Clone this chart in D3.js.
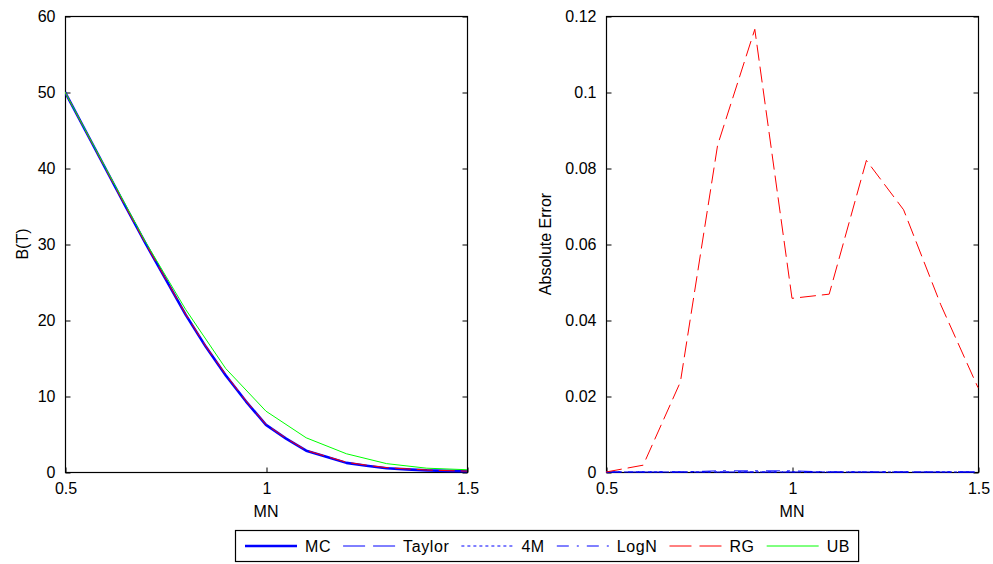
<!DOCTYPE html>
<html><head><meta charset="utf-8">
<script src="https://cdn.jsdelivr.net/npm/d3@7"></script>
<style>
html,body{margin:0;padding:0;background:#fff;}
svg{display:block;font-family:"Liberation Sans",Arial,sans-serif;}
</style></head>
<body>
<svg id="c" width="993" height="564"></svg>
<script>
// ---- data ----
const mnFine = [0.5,0.55,0.6,0.65,0.7,0.75,0.8,0.85,0.9,0.95,1.0,1.05,1.1,1.15,1.2,1.25,1.3,1.35,1.4,1.45,1.5];
const mcB     = [50.0,45.0,40.0,35.0,30.1,25.4,20.7,16.5,12.7,9.3,6.2,4.4,2.8,2.0,1.2,0.83,0.5,0.35,0.22,0.15,0.1];
const taylorB = [50.0,45.0,40.0,35.0,30.1,25.4,20.7,16.5,12.7,9.3,6.2,4.4,2.8,2.0,1.2,0.83,0.5,0.35,0.22,0.15,0.1];
const fourMB  = [50.0,45.0,40.0,35.0,30.1,25.4,20.7,16.5,12.7,9.3,6.2,4.4,2.8,2.0,1.2,0.83,0.5,0.35,0.22,0.15,0.1];
const logNB   = [50.0,45.0,40.0,35.0,30.1,25.4,20.7,16.5,12.7,9.3,6.2,4.4,2.8,2.0,1.2,0.83,0.5,0.35,0.22,0.15,0.1];
const rgB     = [50.0,45.0,40.0,35.0,30.12,25.45,20.79,16.58,12.82,9.38,6.25,4.44,2.85,2.06,1.28,0.9,0.57,0.41,0.26,0.18,0.12];
const mnCoarse = [0.5,0.6,0.7,0.8,0.9,1.0,1.1,1.2,1.3,1.4,1.5];
const ubB     = [50.0,40.1,30.3,21.4,13.6,8.0,4.5,2.4,1.1,0.5,0.3];
const rgErr     = [0,0.0018,0.0237,0.086,0.1165,0.0457,0.0468,0.0820,0.0690,0.0440,0.0222];
const taylorErr = [0,0,0,0,0,0,0,0,0,0,0];
const fourMErr  = [0,0,0,0,0,0,0,0,0,0,0];
const logNErr   = [0,0,0,0.0003,0.0003,0.0003,0,0,0,0,0];
const xTicks = [0.5,1,1.5];
const xTickLabels = ["0.5","1","1.5"];
const yTicksL = [0,10,20,30,40,50,60];
const yTicksR = [0,0.02,0.04,0.06,0.08,0.1,0.12];
const yTickLabelsR = ["0","0.02","0.04","0.06","0.08","0.1","0.12"];
const legendNames = ["MC","Taylor","4M","LogN","RG","UB"];

// ---- styles ----
const BLUE="#0000ff", RED="#ff0000", GREEN="#00ff00";
const styles = {
  MC:{c:BLUE,w:2.6,d:null,ld:null},
  Taylor:{c:BLUE,w:1,d:"16,6",ld:"22,8"},
  "4M":{c:BLUE,w:1,d:"3,3",ld:"3,3"},
  LogN:{c:BLUE,w:1,d:"14,7,3,8",ld:"12,8,2,8"},
  RG:{c:RED,w:1,d:"16,6",ld:"22,8"},
  UB:{c:GREEN,w:1,d:null,ld:null}
};
const FS = 16;
const svg = d3.select("#c");

function panel(x0,x1,y0,y1,yDomain,yTicks,yLabels,ylab,ylabX,series){
  const x = d3.scaleLinear().domain([0.5,1.5]).range([x0,x1]);
  const y = d3.scaleLinear().domain(yDomain).range([y1,y0]);
  const g = svg.append("g");
  // box
  g.append("rect").attr("x",x0+0.5).attr("y",y0+0.5).attr("width",x1-x0).attr("height",y1-y0)
    .attr("fill","none").attr("stroke","#000").attr("stroke-width",1.2);
  // axes
  const ax = d3.axisBottom(x).tickValues(xTicks).tickFormat((d,i)=>xTickLabels[i]).tickSizeInner(-5).tickSizeOuter(0).tickPadding(10);
  const axG = g.append("g").attr("transform","translate(0.5,"+(y1+0.5)+")").call(ax);
  const ay = d3.axisLeft(y).tickValues(yTicks).tickFormat((d,i)=>yLabels[i]).tickSizeInner(-5).tickSizeOuter(0).tickPadding(10);
  const ayG = g.append("g").attr("transform","translate("+(x0+0.5)+",0.5)").call(ay);
  const ayR = d3.axisRight(y).tickValues(yTicks).tickFormat("").tickSizeInner(-5).tickSizeOuter(0);
  const ayRG = g.append("g").attr("transform","translate("+(x1+0.5)+",0.5)").call(ayR);
  [axG,ayG,ayRG].forEach(a=>{
    a.select(".domain").remove();
    a.selectAll(".tick line").attr("stroke","#000");
    a.selectAll("text").attr("font-size",FS).attr("fill","#000").attr("font-family","Liberation Sans, Arial, sans-serif");
  });
  axG.selectAll("text").attr("dy","0.71em");
  // labels
  g.append("text").attr("x",(x0+x1)/2).attr("y",y1+45).attr("text-anchor","middle")
    .attr("font-size",FS).text("MN");
  g.append("text").attr("transform","translate("+ylabX+","+((y0+y1)/2)+") rotate(-90)")
    .attr("text-anchor","middle").attr("font-size",FS).text(ylab);
  // series (drawn above the axes box)
  const clipId = "clip"+x0;
  svg.append("clipPath").attr("id",clipId).append("rect")
    .attr("x",x0).attr("y",y0-2).attr("width",x1-x0+1).attr("height",y1-y0+4);
  const plot = g.append("g").attr("clip-path","url(#"+clipId+")");
  series.forEach(s=>{
    const st = styles[s.name];
    const line = d3.line().x((d,i)=>x(s.xs[i])).y(d=>y(d));
    plot.append("path").datum(s.ys).attr("d",line)
      .attr("fill","none").attr("stroke",st.c).attr("stroke-width",st.w)
      .attr("stroke-dasharray",st.d).attr("stroke-linejoin","round");
  });
}

panel(65,467,16,472,[0,60],yTicksL,yTicksL.map(String),"B(T)",28,[
  {name:"MC",xs:mnFine,ys:mcB},
  {name:"Taylor",xs:mnFine,ys:taylorB},
  {name:"4M",xs:mnFine,ys:fourMB},
  {name:"LogN",xs:mnFine,ys:logNB},
  {name:"RG",xs:mnFine,ys:rgB},
  {name:"UB",xs:mnCoarse,ys:ubB}
]);
panel(606,978,16,472,[0,0.12],yTicksR,yTickLabelsR,"Absolute Error",551,[
  {name:"Taylor",xs:mnCoarse,ys:taylorErr},
  {name:"4M",xs:mnCoarse,ys:fourMErr},
  {name:"LogN",xs:mnCoarse,ys:logNErr},
  {name:"RG",xs:mnCoarse,ys:rgErr}
]);

// ---- legend ----
const lg = svg.append("g");
const box = lg.append("rect").attr("x",235.5).attr("y",530.5).attr("height",31)
  .attr("fill","#fff").attr("stroke","#000").attr("stroke-width",1.2);
let lx = 245;
const ly = 546;
legendNames.forEach(n=>{
  const st = styles[n];
  lg.append("line").attr("x1",lx).attr("x2",lx+52).attr("y1",ly).attr("y2",ly)
    .attr("stroke",st.c).attr("stroke-width",st.w).attr("stroke-dasharray",st.ld);
  const t = lg.append("text").attr("x",lx+60).attr("y",ly).attr("dy","0.35em")
    .attr("font-size",FS).attr("letter-spacing","0.6px").text(n);
  lx = lx + 60 + t.node().getComputedTextLength() + 12;
});
box.attr("width",lx-235-4);
</script>
</body></html>
